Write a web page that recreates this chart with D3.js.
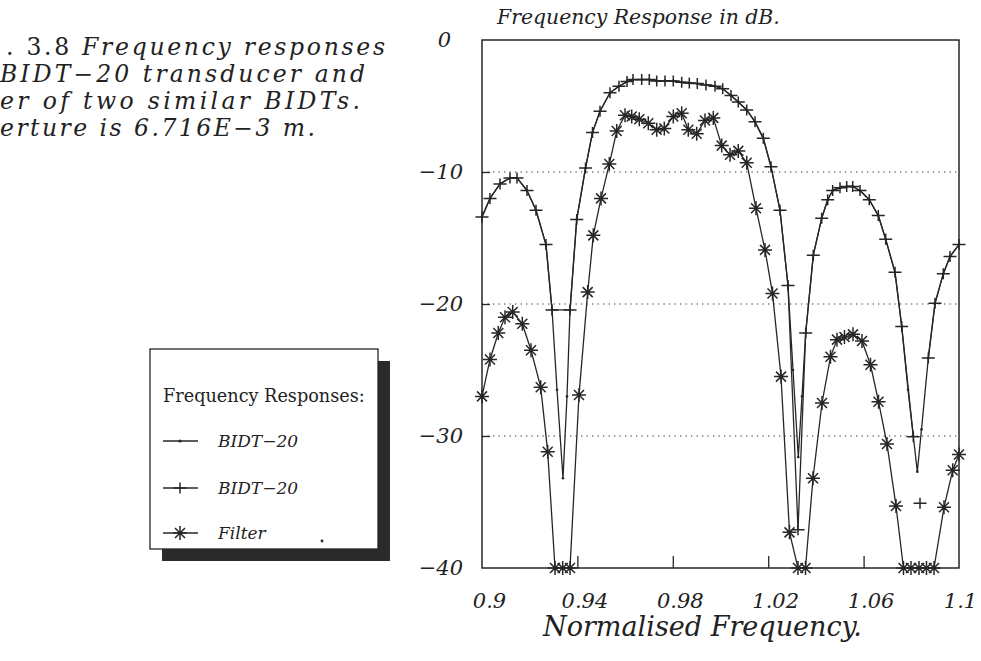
<!DOCTYPE html>
<html>
<head>
<meta charset="utf-8">
<script src="https://cdn.jsdelivr.net/npm/d3@7"></script>
<style>
  body { margin: 0; background: #fff; }
  svg { display: block; }
  text { fill: #222; font-family: "DejaVu Serif", serif; }
</style>
</head>
<body>
<div id="chart"></div>
<script>
// ---- data ----
// x ticks (normalised frequency) and y ticks (dB)
const xTicks = [0.9, 0.94, 0.98, 1.02, 1.06, 1.1];
const xTickLabels = ["0.9", "0.94", "0.98", "1.02", "1.06", "1.1"];
const yTicks = [0, -10, -20, -30, -40];
const yTickLabels = ["0", "\u221210", "\u221220", "\u221230", "\u221240"];
const gridDb = [-10, -20, -30];

// BIDT-20, plain line (fine sampling)
const lineF = [0.9, 0.90335, 0.90755, 0.91174, 0.91468, 0.91887, 0.92264, 0.92683, 0.92935, 0.93145,
  0.93396, 0.93564, 0.9369, 0.93971, 0.9434, 0.94633, 0.94948, 0.95367, 0.95744, 0.9608,
  0.96331, 0.96696, 0.97015, 0.97325, 0.97673, 0.98021, 0.98373, 0.98692, 0.99027, 0.99392,
  0.99769, 1.00092, 1.0044, 1.00746, 1.01099, 1.01447, 1.01795, 1.02117, 1.02495, 1.0283,
  1.0304, 1.03262, 1.03417, 1.03572, 1.03891, 1.04243, 1.04495, 1.04704, 1.0501, 1.05291,
  1.05543, 1.05849, 1.06239, 1.06616, 1.06927, 1.07317, 1.07598, 1.07862, 1.08084, 1.08252,
  1.08428, 1.08713, 1.08994, 1.09342, 1.09623, 1.1];
const lineDb = [-13.4, -12.0, -10.9, -10.45, -10.45, -11.4, -12.9, -15.5, -20.4, -26.5,
  -33.2, -27.0, -20.5, -13.6, -9.7, -7.0, -5.4, -4.0, -3.5, -3.15,
  -3.0, -3.0, -3.0, -3.1, -3.1, -3.1, -3.2, -3.25, -3.3, -3.4,
  -3.5, -3.7, -4.2, -4.7, -5.3, -6.2, -7.45, -9.6, -12.9, -18.6,
  -25.0, -31.6, -27.0, -22.2, -16.3, -13.5, -12.1, -11.4, -11.2, -11.1,
  -11.1, -11.4, -12.1, -13.3, -15.1, -17.6, -21.7, -26.5, -30.0, -32.7,
  -29.5, -24.1, -19.95, -17.7, -16.4, -15.5];

// BIDT-20 with "+" markers (null = gap in the line)
const plusF = [0.9, 0.90335, 0.90755, 0.91174, 0.91468, 0.91887, 0.92264, 0.92683, 0.92935, 0.9369,
  0.93971, 0.9434, 0.94633, 0.94948, 0.95367, 0.95744, 0.9608, 0.96331, 0.96696, 0.97015,
  0.97325, 0.97673, 0.98021, 0.98373, 0.98692, 0.99027, 0.99392, 0.99769, 1.00092, 1.0044,
  1.00746, 1.01099, 1.01447, 1.01795, 1.02117, 1.02495, 1.0283, 1.0325, 1.03572, 1.03891,
  1.04243, 1.04495, 1.04704, 1.0501, 1.05291, 1.05543, 1.05849, 1.06239, 1.06616, 1.06927,
  1.07317, 1.07598, 1.08084, 1.082, 1.08365, 1.085, 1.08713, 1.08994, 1.09342, 1.09623, 1.1];
const plusDb = [-13.4, -12.0, -10.9, -10.45, -10.45, -11.4, -12.9, -15.5, -20.45, -20.45,
  -13.6, -9.7, -7.0, -5.4, -4.0, -3.5, -3.15, -3.0, -3.0, -3.0,
  -3.1, -3.1, -3.1, -3.2, -3.25, -3.3, -3.4, -3.5, -3.7, -4.2,
  -4.7, -5.3, -6.2, -7.45, -9.6, -12.9, -18.6, -37.1, -22.2, -16.3,
  -13.5, -12.1, -11.4, -11.2, -11.1, -11.1, -11.4, -12.1, -13.3, -15.1,
  -17.6, -21.7, -30.05, null, -35.1, null, -24.1, -19.95, -17.7, -16.4, -15.5];

// Filter (two BIDTs), "*" markers
const filterF = [0.9, 0.90335, 0.90683, 0.90964, 0.91287, 0.9169, 0.92055, 0.92461, 0.92755, 0.93061,
  0.93384, 0.9369, 0.94067, 0.94432, 0.94667, 0.9499, 0.95338, 0.95648, 0.95996, 0.96277,
  0.96595, 0.96973, 0.97325, 0.97644, 0.98021, 0.98373, 0.9865, 0.99002, 0.9935, 0.99698,
  1.0005, 1.004, 1.00746, 1.01099, 1.01489, 1.01866, 1.0218, 1.02537, 1.02893, 1.03249,
  1.03564, 1.03878, 1.04256, 1.04612, 1.04885, 1.05199, 1.05556, 1.05933, 1.06289, 1.06625,
  1.06981, 1.07358, 1.07673, 1.07987, 1.08323, 1.08637, 1.08952, 1.09371, 1.09736, 1.1];
const filterDb = [-27.0, -24.2, -22.2, -21.0, -20.6, -21.5, -23.5, -26.3, -31.2, -40,
  -40, -40, -26.9, -19.1, -14.8, -12.0, -9.4, -6.9, -5.7, -5.8,
  -6.0, -6.3, -6.8, -6.7, -5.8, -5.55, -6.8, -7.1, -6.1, -5.9,
  -8.0, -8.7, -8.4, -9.3, -12.75, -15.9, -19.2, -25.5, -37.3, -40,
  -40, -33.2, -27.5, -24.0, -22.7, -22.5, -22.3, -22.8, -24.6, -27.4,
  -30.6, -35.3, -40, -40, -40, -40, -40, -35.4, -32.6, -31.4];

const captionLines = [
  [{ t: ". 3.8 ", it: false }, { t: "Frequency responses", it: true }],
  [{ t: "BIDT\u221220 transducer and", it: true }],
  [{ t: "er of two similar BIDTs.", it: true }],
  [{ t: "erture is 6.716E\u22123 m.", it: true }]
];
const legendTitle = "Frequency Responses:";
const legendNames = ["BIDT\u221220", "BIDT\u221220", "Filter"];

// ---- drawing ----
const W = 981, H = 661;
const ink = "#262626";
const svg = d3.select("#chart").append("svg").attr("width", W).attr("height", H);

const x = d3.scaleLinear().domain([0.9, 1.1]).range([482, 959]);
const y = d3.scaleLinear().domain([-40, 0]).range([568, 40]);

function fitWidth(sel, w) {
  const fs = parseFloat(sel.style("font-size"));
  const cur = sel.node().getComputedTextLength();
  sel.style("font-size", (fs * w / cur) + "px");
}

// dotted grid
svg.selectAll(".grid").data(gridDb).enter().append("line")
  .attr("x1", x(0.9)).attr("x2", x(1.1))
  .attr("y1", d => y(d)).attr("y2", d => y(d))
  .attr("stroke", "#333").attr("stroke-width", 1.2)
  .attr("stroke-dasharray", "1.3,4.2");

// axes with inward ticks
const xAxis = svg.append("g").attr("transform", `translate(0,${y(-40)})`)
  .call(d3.axisBottom(x).tickValues(xTicks).tickSize(-12).tickPadding(25)
    .tickFormat((d, i) => xTickLabels[i]));
const yAxis = svg.append("g").attr("transform", `translate(${x(0.9)},0)`)
  .call(d3.axisLeft(y).tickValues(yTicks).tickSize(-8).tickPadding(19)
    .tickFormat((d, i) => yTickLabels[i]));
[xAxis, yAxis].forEach(g => {
  g.select(".domain").remove();
  g.selectAll("line").attr("stroke", ink).attr("stroke-width", 1.3);
  g.selectAll("text").attr("fill", "#222")
    .style("font-family", '"DejaVu Serif", serif').style("font-style", "italic")
    .style("font-size", "21px");
});
xAxis.selectAll("text").attr("dx", d => d === 1.1 ? 1 : 7);
yAxis.selectAll(".tick").filter(d => d === 0).select("text").attr("dx", "-12");
xAxis.selectAll(".tick").filter(d => d === 0.9 || d === 1.1).select("line").remove();
yAxis.selectAll(".tick").filter(d => d === 0 || d === -40).select("line").remove();

// frame
svg.append("rect")
  .attr("x", x(0.9)).attr("y", y(0))
  .attr("width", x(1.1) - x(0.9)).attr("height", y(-40) - y(0))
  .attr("fill", "none").attr("stroke", ink).attr("stroke-width", 1.5);

const line = d3.line().defined(d => d[1] !== null).x(d => x(d[0])).y(d => y(d[1]));
const pts = (fs, vs) => fs.map((f, i) => [f, vs[i]]);

const linePts = pts(lineF, lineDb);
const plusPts = pts(plusF, plusDb);
const filterPts = pts(filterF, filterDb);

[linePts, plusPts, filterPts].forEach(p => {
  svg.append("path").datum(p).attr("d", line)
    .attr("fill", "none").attr("stroke", ink).attr("stroke-width", 1.3)
    .attr("stroke-linejoin", "round");
});

// markers
function plusMark(g, cx, cy) {
  g.append("path").attr("d", `M${cx - 6.5},${cy}H${cx + 6.5}M${cx},${cy - 5.5}V${cy + 5.5}`)
    .attr("stroke", ink).attr("stroke-width", 1.5).attr("fill", "none");
}
function starMark(g, cx, cy) {
  const r = 7, d = 5;
  g.append("path")
    .attr("d", `M${cx - r},${cy}H${cx + r}M${cx},${cy - r}V${cy + r}` +
      `M${cx - d},${cy - d}L${cx + d},${cy + d}M${cx - d},${cy + d}L${cx + d},${cy - d}`)
    .attr("stroke", ink).attr("stroke-width", 1.5).attr("fill", "none");
}
const mk = svg.append("g");
linePts.forEach(p => mk.append("circle").attr("cx", x(p[0])).attr("cy", y(p[1]))
  .attr("r", 1.3).attr("fill", ink));
plusPts.filter(p => p[1] !== null).forEach(p => plusMark(mk, x(p[0]), y(p[1])));
filterPts.forEach(p => starMark(mk, x(p[0]), y(p[1])));

// titles
const yTitle = svg.append("text").attr("x", 497).attr("y", 24)
  .style("font-style", "italic").style("font-size", "18px")
  .text("Frequency Response in dB.");
fitWidth(yTitle, 283);
const xTitle = svg.append("text").attr("x", 543).attr("y", 636)
  .style("font-style", "italic").style("font-size", "24px")
  .text("Normalised Frequency.");
fitWidth(xTitle, 319);

// caption text block at top left (fixed size, spread a little to the scanned width)
const capX = [6, 0, 0, 0], capY = [55, 82, 109, 136], capW = [379, 365, 360, 315];
captionLines.forEach((parts, i) => {
  const t = svg.append("text").attr("x", capX[i]).attr("y", capY[i]).style("font-size", "23.5px")
    .attr("textLength", capW[i]).attr("lengthAdjust", "spacing");
  parts.forEach(p => t.append("tspan").style("font-style", p.it ? "italic" : "normal").text(p.t));
});

// legend box with drop shadow
const lg = { x: 150, y: 349, w: 228, h: 200, sh: 12 };
svg.append("rect").attr("x", lg.x + lg.sh).attr("y", lg.y + lg.sh)
  .attr("width", lg.w).attr("height", lg.h).attr("fill", "#2a2a2a");
svg.append("rect").attr("x", lg.x).attr("y", lg.y).attr("width", lg.w).attr("height", lg.h)
  .attr("fill", "#fff").attr("stroke", ink).attr("stroke-width", 1.3);
const lt = svg.append("text").attr("x", 163).attr("y", 402).style("font-size", "17px").text(legendTitle);
fitWidth(lt, 202);
const rowY = [447, 494, 539];
legendNames.forEach((name, i) => {
  const cy = rowY[i] - 6;
  svg.append("line").attr("x1", 163).attr("x2", 198).attr("y1", cy).attr("y2", cy)
    .attr("stroke", ink).attr("stroke-width", 1.3);
  if (i === 0) svg.append("circle").attr("cx", 180).attr("cy", cy).attr("r", 1.6).attr("fill", ink);
  if (i === 1) plusMark(svg, 180, cy);
  if (i === 2) starMark(svg, 180, cy);
  svg.append("text").attr("x", 218).attr("y", rowY[i])
    .style("font-style", "italic").style("font-size", "17px").text(name);
});
svg.append("circle").attr("cx", 322).attr("cy", 541).attr("r", 1.4).attr("fill", ink);
</script>
</body>
</html>
